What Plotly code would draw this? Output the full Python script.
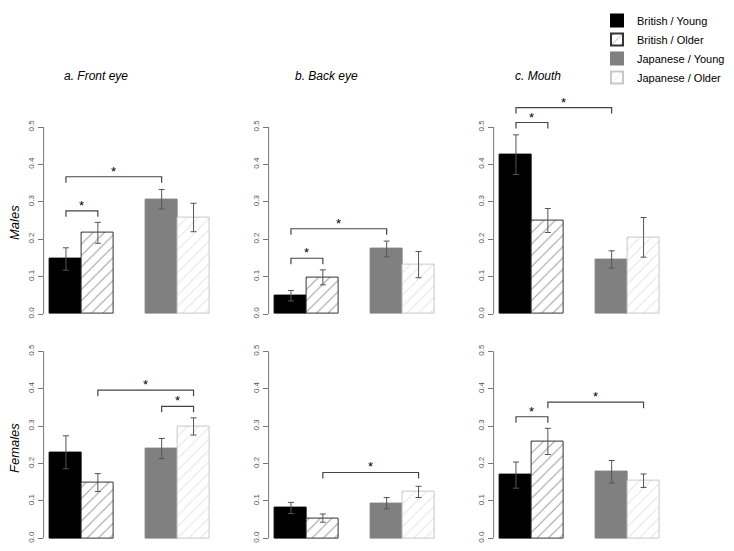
import plotly.graph_objects as go

# ---------------- data ----------------
panel_names = ["Front eye / Males", "Back eye / Males", "Mouth / Males",
               "Front eye / Females", "Back eye / Females", "Mouth / Females"]
column_titles = ["a. Front eye", "b. Back eye", "c. Mouth"]
row_labels = ["Males", "Females"]
group_names = ["British / Young", "British / Older", "Japanese / Young", "Japanese / Older"]

british_young = [0.147, 0.049, 0.426, 0.230, 0.081, 0.169]
british_young_err = [0.030, 0.014, 0.053, 0.044, 0.015, 0.035]
british_older = [0.217, 0.098, 0.250, 0.149, 0.054, 0.259]
british_older_err = [0.028, 0.020, 0.032, 0.024, 0.011, 0.035]
japanese_young = [0.307, 0.174, 0.146, 0.240, 0.094, 0.178]
japanese_young_err = [0.026, 0.021, 0.023, 0.027, 0.015, 0.030]
japanese_older = [0.258, 0.132, 0.205, 0.299, 0.124, 0.154]
japanese_older_err = [0.038, 0.035, 0.053, 0.023, 0.015, 0.018]

# significance brackets: (panel, first group, second group, level)
brackets = [
    (0, 0, 2, 0.367), (0, 0, 1, 0.276),
    (1, 0, 2, 0.228), (1, 0, 1, 0.149),
    (2, 0, 2, 0.552), (2, 0, 1, 0.512),
    (3, 1, 3, 0.396), (3, 2, 3, 0.353),
    (4, 1, 3, 0.176),
    (5, 0, 1, 0.325), (5, 1, 3, 0.364),
]
y_ticks = [0.0, 0.1, 0.2, 0.3, 0.4, 0.5]

# ---------------- styling / layout ----------------
W, H = 734, 551
FONT = "Liberation Sans, Arial, Helvetica, sans-serif"
bar_pos = [0.5, 1.5, 3.5, 4.5]
unit = 31.9
col_bar_start = [50, 275, 500]
row_zero = [314, 538.3]
row_top = [0.6, 0.55]
px_per_unit = 374.0

series = [
    (british_young, british_young_err, dict(color="#000000", line=dict(color="#000000", width=1))),
    (british_older, british_older_err, dict(color="white", line=dict(color="#333333", width=1),
                                            pattern=dict(shape="/", fgcolor="#333333", bgcolor="white",
                                                         size=8, solidity=0.12))),
    (japanese_young, japanese_young_err, dict(color="#808080", line=dict(color="#808080", width=1))),
    (japanese_older, japanese_older_err, dict(color="white", line=dict(color="#c8c8c8", width=1),
                                              pattern=dict(shape="/", fgcolor="#c8c8c8", bgcolor="white",
                                                           size=8, solidity=0.12))),
]

fig = go.Figure()
layout = dict(width=W, height=H, margin=dict(l=0, r=0, t=0, b=0),
              paper_bgcolor="white", plot_bgcolor="rgba(0,0,0,0)",
              showlegend=True, bargap=0, barmode="overlay",
              font=dict(family=FONT, color="#000000"))
shapes, annotations = [], []

for p in range(6):
    r, c = divmod(p, 3)
    n = p + 1
    xa = "x" if n == 1 else f"x{n}"
    ya = "y" if n == 1 else f"y{n}"
    x0px = col_bar_start[c] - 0.2 * unit
    x1px = col_bar_start[c] + 5.2 * unit
    ybot = row_zero[r] + 0.02 * px_per_unit
    ytop = row_zero[r] - row_top[r] * px_per_unit
    layout["xaxis" if n == 1 else f"xaxis{n}"] = dict(
        domain=[x0px / W, x1px / W], range=[-0.2, 5.2], anchor=ya,
        showgrid=False, zeroline=False, showticklabels=False, ticks="", showline=False)
    layout["yaxis" if n == 1 else f"yaxis{n}"] = dict(
        domain=[1 - ybot / H, 1 - ytop / H], range=[-0.02, row_top[r]], anchor=xa,
        showgrid=False, zeroline=False, showline=False,
        tickvals=y_ticks, tickformat=".1f", ticks="outside", ticklen=5, tickwidth=1,
        tickcolor="#777777", tickangle=-90, tickfont=dict(size=8, color="#555555", family=FONT))
    # axis line spanning only 0 .. 0.5 like R
    shapes.append(dict(type="line", xref=f"{xa} domain", yref=ya, x0=0, x1=0,
                       y0=y_ticks[0], y1=y_ticks[-1], line=dict(color="#777777", width=1)))
    for g, (vals, errs, mk) in enumerate(series):
        fig.add_trace(go.Bar(
            x=[bar_pos[g]], y=[vals[p]], width=1, marker=mk,
            error_y=dict(type="data", array=[errs[p]], visible=True,
                         color="#555555", thickness=1, width=3),
            name=group_names[g], legendgroup=group_names[g], showlegend=(p == 0),
            xaxis=xa, yaxis=ya, hovertemplate=f"{panel_names[p]}<br>{group_names[g]}: %{{y:.3f}}<extra></extra>"))

for (p, a, b, lvl) in brackets:
    n = p + 1
    xa = "x" if n == 1 else f"x{n}"
    ya = "y" if n == 1 else f"y{n}"
    xa_, xb_ = bar_pos[a], bar_pos[b]
    drop = 0.016
    shapes.append(dict(type="path", xref=xa, yref=ya,
                       path=f"M {xa_},{lvl - drop} L {xa_},{lvl} L {xb_},{lvl} L {xb_},{lvl - drop}",
                       line=dict(color="#444444", width=1.2)))
    annotations.append(dict(x=(xa_ + xb_) / 2, y=lvl, xref=xa, yref=ya, text="*",
                            showarrow=False, yanchor="bottom", yshift=-4,
                            font=dict(size=13, color="#000000", family=FONT)))

title_x = [95.5, 326, 538]
for c, t in enumerate(column_titles):
    annotations.append(dict(x=title_x[c] / W, y=1 - 76 / H, xref="paper", yref="paper",
                            text=f"<i>{t}</i>", showarrow=False, xanchor="center", yanchor="middle",
                            font=dict(size=12, family=FONT, color="#000000")))
row_y = [223, 448]
for r, t in enumerate(row_labels):
    annotations.append(dict(x=14 / W, y=1 - row_y[r] / H, xref="paper", yref="paper",
                            text=f"<i>{t}</i>", showarrow=False, textangle=-90,
                            xanchor="center", yanchor="middle",
                            font=dict(size=13, family=FONT, color="#000000")))

layout["shapes"] = shapes
layout["annotations"] = annotations
layout["legend"] = dict(x=597 / W, y=1 - 6 / H, xanchor="left", yanchor="top",
                        bgcolor="rgba(0,0,0,0)", font=dict(size=11, family=FONT, color="#000000"),
                        tracegroupgap=0, itemsizing="constant")
fig.update_layout(**layout)
fig.write_html("out.html", config={"displayModeBar": False},
               post_script="document.body.style.margin='0px';document.body.style.overflow='hidden';")
